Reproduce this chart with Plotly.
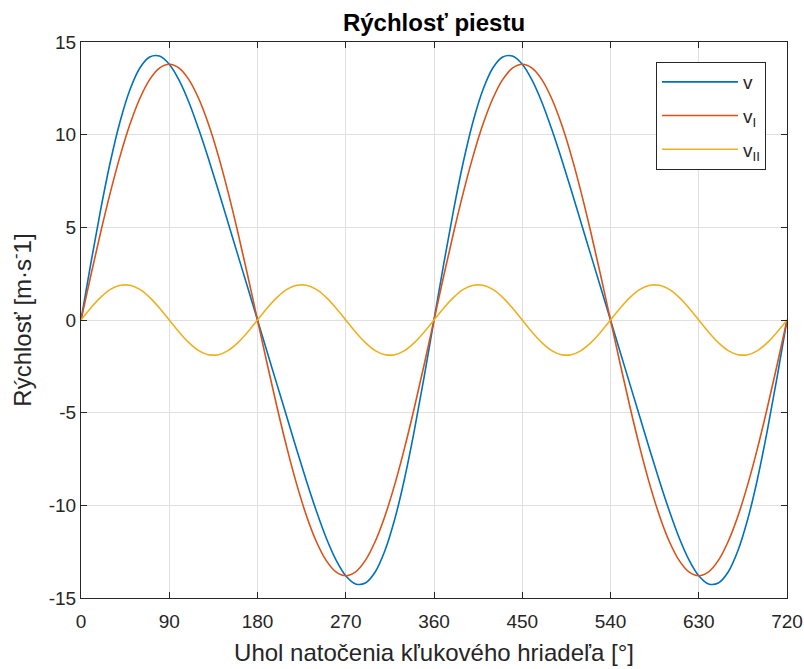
import plotly.graph_objects as go

# crank angle [deg]
angle = list(range(0, 721, 10))

# values (m/s), first revolution 0..350 deg
v_I_rev = [0, 2.40, 4.72, 6.90, 8.87, 10.57, 11.95, 12.97, 13.59, 13.80,
           13.59, 12.97, 11.95, 10.57, 8.87, 6.90, 4.72, 2.40, 0,
           -2.40, -4.72, -6.90, -8.87, -10.57, -11.95, -12.97, -13.59, -13.80,
           -13.59, -12.97, -11.95, -10.57, -8.87, -6.90, -4.72, -2.40]
v_II_rev = [0, 0.65, 1.22, 1.65, 1.87, 1.87, 1.65, 1.22, 0.65, 0,
            -0.65, -1.22, -1.65, -1.87, -1.87, -1.65, -1.22, -0.65, 0,
            0.65, 1.22, 1.65, 1.87, 1.87, 1.65, 1.22, 0.65, 0,
            -0.65, -1.22, -1.65, -1.87, -1.87, -1.65, -1.22, -0.65]
v_rev = [0, 3.05, 5.94, 8.55, 10.74, 12.44, 13.60, 14.19, 14.24, 13.80,
         12.94, 11.75, 10.30, 8.70, 7.00, 5.25, 3.50, 1.75, 0,
         -1.75, -3.50, -5.25, -7.00, -8.70, -10.30, -11.75, -12.94, -13.80,
         -14.24, -14.19, -13.60, -12.44, -10.74, -8.55, -5.94, -3.05]

v_I = v_I_rev + v_I_rev + [0]
v_II = v_II_rev + v_II_rev + [0]
v = v_rev + v_rev + [0]

x_ticks = [0, 90, 180, 270, 360, 450, 540, 630, 720]
y_ticks = [-15, -10, -5, 0, 5, 10, 15]
y_ticktext = ["-15", "-10", "-5", "0", "5", "10", "15"]

colors = ["#0072BD", "#D95319", "#EDB120"]
names = ["v", "v<sub>I</sub>", "v<sub>II</sub>"]

FONT = "Liberation Sans, Arial, Helvetica"

fig = go.Figure()
for i, (y, name) in enumerate(zip([v, v_I, v_II], names)):
    fig.add_trace(go.Scatter(x=angle, y=y, mode="lines", name=name,
                             line=dict(color=colors[i], width=1.6, shape="spline", smoothing=1.0),
                             legendgroup=str(i)))

axis_common = dict(showline=True, linecolor="#262626", linewidth=1, mirror="ticks",
                   ticks="inside", ticklen=6, tickcolor="#262626", automargin=False,
                   showgrid=True, gridcolor="#e0e0e0", gridwidth=1, zeroline=False,
                   tickfont=dict(family=FONT, size=19, color="#262626"))

fig.update_layout(
    width=804, height=669,
    margin=dict(l=81, r=17, t=42, b=71),
    plot_bgcolor="white", paper_bgcolor="white",
    title=dict(text="<b>Rýchlosť piestu</b>", x=(81 + 787) / 2 / 804, xanchor="center", xref="container",
               y=1 - 23 / 669, yanchor="middle",
               font=dict(family=FONT, size=24, color="black")),
    xaxis=dict(range=[0, 720], tickvals=x_ticks, ticklabelstandoff=6,
               title=dict(text="Uhol natočenia kľukového hriadeľa [°]", standoff=13,
                          font=dict(family=FONT, size=24, color="#262626")),
               **axis_common),
    yaxis=dict(range=[-15, 15], tickvals=y_ticks, ticktext=y_ticktext,
               title=dict(text="Rýchlosť [m·s<sup>-</sup>1]", standoff=10,
                          font=dict(family=FONT, size=24, color="#262626")),
               **axis_common),
    legend=dict(x=(766 - 81) / 706, xanchor="right", y=(598 - 62) / 556, yanchor="top",
                bordercolor="#262626", borderwidth=1, bgcolor="white",
                tracegroupgap=6, itemwidth=76,
                font=dict(family=FONT, size=19, color="#262626")),
    showlegend=True,
)

fig.write_html("out.html")
